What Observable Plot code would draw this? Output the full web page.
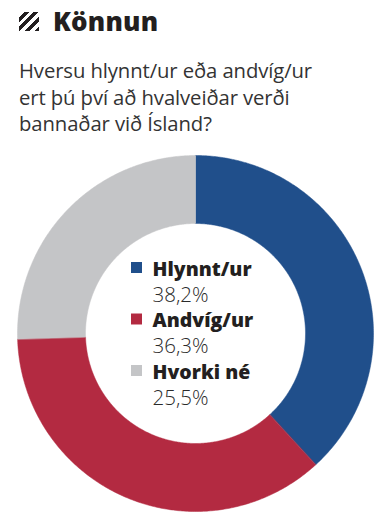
<!DOCTYPE html>
<html>
<head>
<meta charset="utf-8">
<script src="https://cdn.jsdelivr.net/npm/d3@7"></script>
<script src="https://cdn.jsdelivr.net/npm/@observablehq/plot@0.6"></script>
<style>
  html, body { margin: 0; padding: 0; background: #fff; }
  body { width: 390px; height: 531px; overflow: hidden; font-family: "Open Sans", sans-serif; position: relative; }
  .head { position: absolute; left: 19px; top: 4px; display: flex; align-items: center; }
  .icon { width: 20px; height: 19px; margin-right: 14px;
    background: repeating-linear-gradient(-45deg, #231f20 0 3.4px, #fff 3.4px 6.8px); }
  .title { font-size: 26px; font-weight: 800; color: #231f20; letter-spacing: 0.2px; line-height: 34px; }
  .q { position: absolute; left: 19px; top: 57px; font-size: 20.3px; line-height: 26.5px; color: #333; font-weight: 400; letter-spacing: -0.1px; }
  #chart { position: absolute; left: 0; top: 148px; }
</style>
</head>
<body>
<div class="head"><div class="icon"></div><div class="title">Könnun</div></div>
<div class="q">Hversu hlynnt/ur eða andvíg/ur<br>ert þú því að hvalveiðar verði<br>bannaðar við Ísland?</div>
<div id="chart"></div>
<script>
const categories = ["Hlynnt/ur", "Andvíg/ur", "Hvorki né"];
const values = [38.2, 36.3, 25.5];
const valueLabels = ["38,2%", "36,3%", "25,5%"];
const colors = ["#204f8b", "#b32a41", "#c4c5c7"];

const W = 390, H = 370;
const R = 178, r = 110;

const pie = d3.pie().sort(null).value(d => d.value)(
  categories.map((c, i) => ({category: c, value: values[i]}))
);

// polygon points for each slice (angle measured clockwise from 12 o'clock, y downward)
const pts = [];
pie.forEach(s => {
  const n = Math.max(2, Math.ceil((s.endAngle - s.startAngle) / 0.01));
  const ring = [];
  for (let k = 0; k <= n; k++) {
    const a = s.startAngle + (s.endAngle - s.startAngle) * k / n;
    ring.push([R * Math.sin(a), -R * Math.cos(a)]);
  }
  for (let k = n; k >= 0; k--) {
    const a = s.startAngle + (s.endAngle - s.startAngle) * k / n;
    ring.push([r * Math.sin(a), -r * Math.cos(a)]);
  }
  ring.forEach(([x, y]) => pts.push({category: s.data.category, x, y}));
});

const legend = categories.map((c, i) => ({category: c, value: valueLabels[i], i}));
const step = 51.5;

const plot = Plot.plot({
  width: W, height: H,
  margin: 0,
  x: {domain: [-W / 2, W / 2], axis: null},
  y: {domain: [-H / 2, H / 2], reverse: true, axis: null},
  color: {domain: categories, range: colors},
  marks: [
    Plot.line(pts, {x: "x", y: "y", z: "category", fill: "category", stroke: "category", strokeWidth: 0.5, curve: "linear-closed"}),
    Plot.dot(legend, {x: -59, y: d => -66 + d.i * step, symbol: "square", r: 6.2, fill: "category", stroke: null}),
    Plot.text(legend, {x: -43, y: d => -58 + d.i * step, text: "category", textAnchor: "start", lineAnchor: "bottom",
      fontSize: 19.5, fontWeight: 800, fill: "#231f20", fontFamily: "Open Sans"}),
    Plot.text(legend, {x: -43, y: d => -32 + d.i * step, text: "value", textAnchor: "start", lineAnchor: "bottom",
      fontSize: 20.5, fontWeight: 300, fill: "#2a2a2a", fontFamily: "Open Sans"})
  ]
});
document.getElementById("chart").appendChild(plot);
</script>
</body>
</html>
